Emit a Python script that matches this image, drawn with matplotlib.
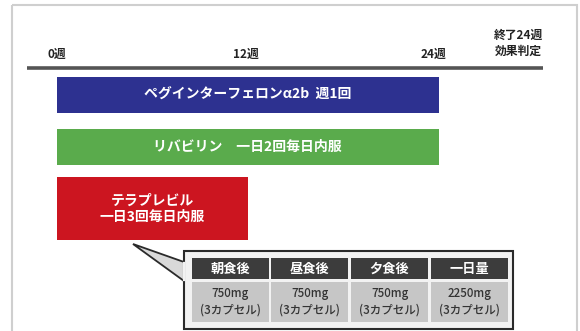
import matplotlib
matplotlib.use("Agg")
import matplotlib.pyplot as plt
from matplotlib.patches import Rectangle, Polygon

plt.rcParams['font.family'] = ['Noto Sans CJK JP', 'DejaVu Sans']

# ---- data ----
tick_weeks = [0, 12, 24]
tick_labels = ["0週", "12週", "24週"]
end_label = "終了24週\n効果判定"
end_label_week = 29

drugs = ["ペグインターフェロンα2b  週1回",
         "リバビリン　一日2回毎日内服",
         "テラプレビル\n一日3回毎日内服"]
drug_start = [0, 0, 0]
drug_end = [24, 24, 12]
drug_colors = ["#2d3190", "#5aab4c", "#cc1520"]

meals = ["朝食後", "昼食後", "夕食後", "一日量"]
doses_mg = [750, 750, 750, 2250]
capsules = [3, 3, 3, 3]

# ---- figure ----
W, H = 580, 331
fig = plt.figure(figsize=(W / 100, H / 100), dpi=100)
# pixel overlay axes
axp = fig.add_axes([0, 0, 1, 1])
axp.set_xlim(0, W)
axp.set_ylim(H, 0)
axp.axis("off")

# timeline axes: x in weeks (0 wk -> 57 px, 15.9 px/wk)
px0, ppw = 57.0, 15.9
ax = fig.add_axes([0, 0, 1, 1])
ax.set_xlim(-px0 / ppw, (W - px0) / ppw)
ax.set_ylim(H, 0)
ax.axis("off")
ax.patch.set_alpha(0)

# outer frame
axp.add_patch(Rectangle((12, 5), 565, 340, fill=False, ec="#cfcfcf", lw=1.5))

# axis line
axp.plot([27, 543], [67.5, 67.5], color="#555555", lw=2.6, solid_capstyle="butt")

# tick labels
for w, lab in zip(tick_weeks, tick_labels):
    ax.text(w - 0.15 * w / 12, 54, lab, ha="center", va="center",
            fontsize=8.5, fontweight="bold", color="#222222")
ax.text(end_label_week, 43, end_label, ha="center", va="center",
        fontsize=8.5, fontweight="bold", color="#222222", linespacing=1.3)

# bars
bar_y = [95, 147, 208.5]
bar_h = [36, 36, 63]
for y, h, s, e, c, lab in zip(bar_y, bar_h, drug_start, drug_end, drug_colors, drugs):
    ax.barh(y, e - s, left=s, height=h, color=c, edgecolor="none")
    ax.text((s + e) / 2, y, lab, ha="center", va="center", color="white",
            fontsize=10, fontweight="bold", linespacing=1.2)

# callout pointer + box
axp.add_patch(Polygon([(133, 244), (184, 262), (184, 281)], closed=True,
                      fc="#d9d9d9", ec="#2a2a2a", lw=1.3, zorder=2))
axp.add_patch(Rectangle((184, 251), 329, 78, fc="#f2f2f2", ec="#2a2a2a",
                        lw=1.5, zorder=3))
axp.plot([184, 184], [262.8, 280.2], color="#f2f2f2", lw=1.6, zorder=4)

# table
col_x = [192, 271, 351, 431]
col_w = 77
hdr_y, hdr_h = 258, 21
dat_y, dat_h = 282, 40
for x, m, d, c in zip(col_x, meals, doses_mg, capsules):
    axp.add_patch(Rectangle((x, hdr_y), col_w, hdr_h, fc="#3c3c3c", ec="none", zorder=5))
    axp.text(x + col_w / 2, hdr_y + hdr_h / 2, m, ha="center", va="center",
             color="white", fontsize=9.5, fontweight="bold", zorder=6)
    axp.add_patch(Rectangle((x, dat_y), col_w, dat_h, fc="#c6c6c6", ec="none", zorder=5))
    axp.text(x + col_w / 2, dat_y + dat_h / 2, f"{d}mg\n({c}カプセル)",
             ha="center", va="center", color="#333333", fontsize=8.3,
             fontweight="medium", linespacing=1.3, zorder=6)

fig.savefig("out.png", dpi=100)
